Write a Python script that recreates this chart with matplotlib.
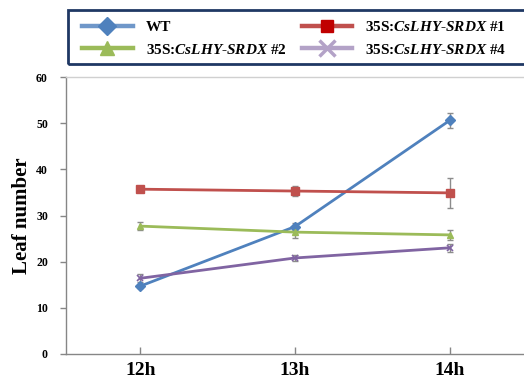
import matplotlib
matplotlib.use("Agg")
import matplotlib.pyplot as plt
from matplotlib.lines import Line2D
from matplotlib.patches import Rectangle

plt.rcParams['font.family'] = ['Liberation Serif', 'DejaVu Serif']
plt.rcParams['font.weight'] = 'bold'
plt.rcParams['mathtext.fontset'] = 'custom'
plt.rcParams['mathtext.rm'] = 'Liberation Serif:bold'
plt.rcParams['mathtext.it'] = 'Liberation Serif:italic:bold'

categories = ['12h', '13h', '14h']
series_names = ['WT', '35S:$\\mathit{CsLHY}$-$\\mathit{SRDX}$ #1',
                '35S:$\\mathit{CsLHY}$-$\\mathit{SRDX}$ #2',
                '35S:$\\mathit{CsLHY}$-$\\mathit{SRDX}$ #4']
wt = [14.7, 27.6, 50.6]
wt_err = [0.5, 0.8, 1.6]
l1 = [35.7, 35.3, 34.9]
l1_err = [0.3, 1.0, 3.2]
l2 = [27.7, 26.4, 25.8]
l2_err = [0.9, 1.2, 1.0]
l4 = [16.4, 20.8, 23.0]
l4_err = [0.9, 0.7, 0.8]

line_colors = ['#4F81BD', '#C0504D', '#9BBB59', '#8064A2']
leg_colors = ['#4F81BD', '#C00000', '#9BBB59', '#B3A2C7']
leg_line_colors = ['#6F97C9', '#C0504D', '#9BBB59', '#B3A2C7']
markers = ['D', 's', '^', 'x']

fig = plt.figure(figsize=(5.24, 3.82), dpi=100)
ax = fig.add_axes([66/524, 1-354/382, 458/524, 277/382])

x = list(range(len(categories)))
data = [(wt, wt_err), (l1, l1_err), (l2, l2_err), (l4, l4_err)]
for i, (vals, errs) in enumerate(data):
    ax.errorbar(x, vals, yerr=errs, fmt='none', ecolor='#8C8C8C',
                elinewidth=1.0, capsize=2.5, capthick=1.0, zorder=2)
    ax.plot(x, vals, color=line_colors[i], lw=2.0, marker=markers[i],
            markersize=6 if markers[i] == 's' else 5,
            markeredgewidth=1.2 if markers[i] == 'x' else 1.0,
            markeredgecolor=line_colors[i], markerfacecolor=line_colors[i],
            zorder=3)

ax.set_xlim(-0.48, 2.48)
ax.set_ylim(0, 60)
ax.set_yticks(range(0, 61, 10))
ax.set_xticks(x)
ax.set_xticklabels(categories, fontsize=14, fontweight='bold')
for lab in ax.get_yticklabels():
    lab.set_fontsize(8.5)
    lab.set_fontweight('bold')
ax.set_ylabel('Leaf number', fontsize=15, fontweight='bold', labelpad=3)

for s in ['left', 'bottom']:
    ax.spines[s].set_color('#868686')
    ax.spines[s].set_linewidth(1.0)
ax.spines['right'].set_visible(False)
ax.spines['top'].set_color('#D0D0D0')
ax.spines['top'].set_linewidth(1.0)
ax.tick_params(axis='y', color='#868686', length=4, width=1, direction='out', pad=9)
ax.tick_params(axis='x', color='#868686', length=5, width=1, direction='in', pad=6)

# legend
handles = []
for i in range(4):
    ms = {'D': 9, 's': 9, '^': 10, 'x': 11}[markers[i]]
    h = Line2D([0], [0], color=leg_line_colors[i], lw=3.2, marker=markers[i],
               markersize=ms, markerfacecolor=leg_colors[i],
               markeredgecolor=leg_colors[i],
               markeredgewidth=2.5 if markers[i] == 'x' else 1)
    handles.append(h)
order = [0, 2, 1, 3]
leg = fig.legend([handles[k] for k in order], [series_names[k] for k in order],
                 ncol=2, loc='upper left', bbox_to_anchor=(76/524, 1-14/382),
                 frameon=False, prop={'family': 'Liberation Serif', 'weight': 'bold', 'size': 11},
                 handlelength=3.3, handletextpad=0.85, columnspacing=1.0,
                 labelspacing=0.57, borderaxespad=0)
fig.patches.append(Rectangle((68/524, 1-64/382), 470/524, 54/382,
                             transform=fig.transFigure, fill=False,
                             edgecolor='#1F3864', lw=2.0))

fig.savefig('out.png', dpi=100)
